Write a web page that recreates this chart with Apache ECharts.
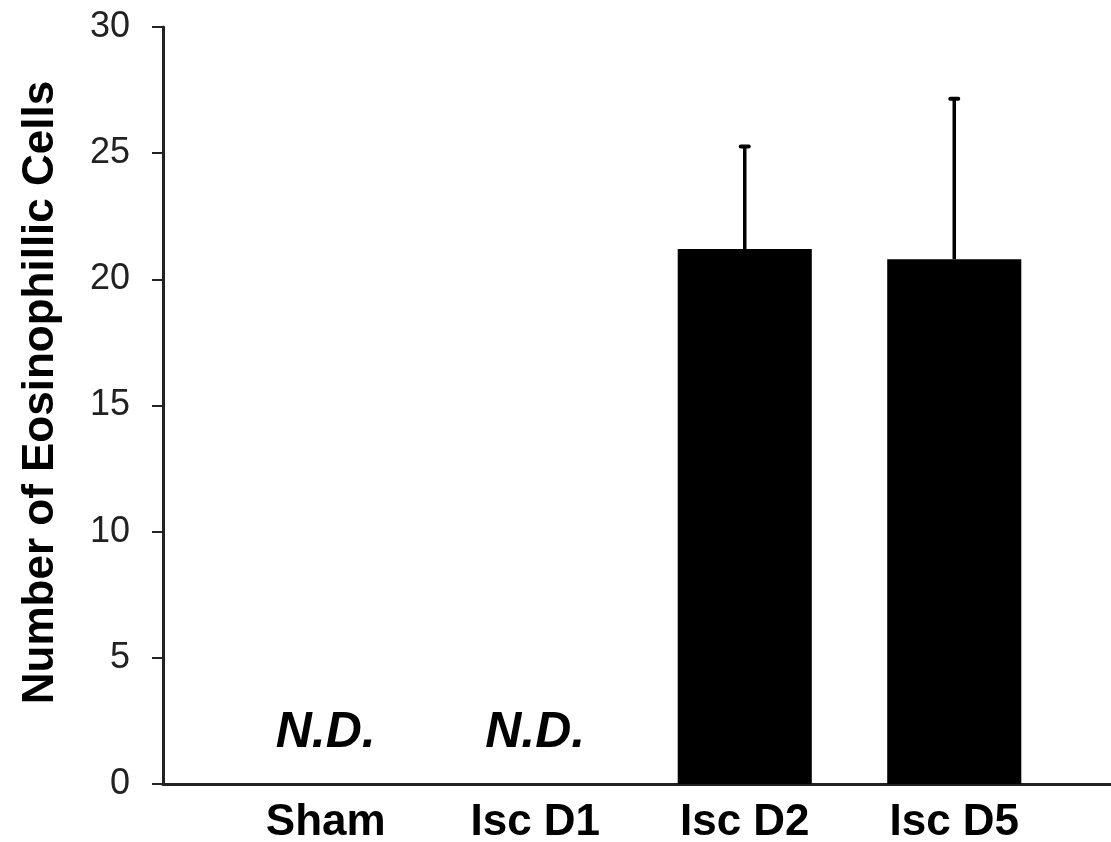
<!DOCTYPE html>
<html>
<head>
<meta charset="utf-8">
<script src="https://cdn.jsdelivr.net/npm/echarts@6/dist/echarts.min.js"></script>
<style>
html,body{margin:0;padding:0;background:#fff;}
#chart{width:1111px;height:842px;}
</style>
</head>
<body>
<div id="chart"></div>
<script>
const categories = ['Sham', 'Isc D1', 'Isc D2', 'Isc D5'];
const means = [0, 0, 21.2, 20.8];
const upperErr = [null, null, 25.3, 27.2];
const ndLabels = ['N.D.', 'N.D.', '', ''];
const yMin = 0, yMax = 30, yStep = 5;
const yTitle = 'Number of Eosinophillic Cells';

const FONT = '"Liberation Sans", Arial, sans-serif';
const errData = [];
categories.forEach((c, i) => { if (upperErr[i] != null) errData.push([i, means[i], upperErr[i]]); });

const chart = echarts.init(document.getElementById('chart'), null, {renderer: 'canvas'});
chart.setOption({
  animation: false,
  backgroundColor: '#fff',
  grid: [
    {left: 163, right: 0, top: 27, bottom: 58, containLabel: false, outerBoundsMode: 'none'},
    {left: 221, right: 52, top: 27, bottom: 58, containLabel: false, outerBoundsMode: 'none'}
  ],
  xAxis: [
    {gridIndex: 0, type: 'value', min: 0, max: 1, z: 1,
     axisLine: {show: true, lineStyle: {color: '#222', width: 3}},
     axisTick: {show: false}, axisLabel: {show: false}, splitLine: {show: false}},
    {gridIndex: 1, type: 'category', data: categories,
     axisLine: {show: false, onZero: false}, axisTick: {show: false}, splitLine: {show: false},
     axisLabel: {fontFamily: FONT, fontWeight: 'bold', fontSize: 44, color: '#000', margin: 17}}
  ],
  yAxis: [
    {gridIndex: 0, type: 'value', min: yMin, max: yMax, interval: yStep,
     axisLine: {show: true, lineStyle: {color: '#222', width: 3}},
     axisTick: {show: true, length: 11, lineStyle: {color: '#222', width: 2}},
     axisLabel: {fontFamily: FONT, fontSize: 36, color: '#222', margin: 33},
     splitLine: {show: false},
     name: yTitle, nameLocation: 'middle', nameGap: 100,
     nameTextStyle: {fontFamily: FONT, fontWeight: 'bold', fontSize: 44, color: '#000', padding: [0, 0, 0, 26]}},
    {gridIndex: 1, type: 'value', min: yMin, max: yMax, interval: yStep, show: false}
  ],
  series: [
    {type: 'bar', xAxisIndex: 1, yAxisIndex: 1, data: means, barWidth: '64%', z: 5,
     itemStyle: {color: '#000', borderWidth: 0},
     label: {show: true, position: 'top', distance: 26,
       formatter: p => ndLabels[p.dataIndex],
       fontFamily: FONT, fontStyle: 'italic', fontWeight: 'bold', fontSize: 50, color: '#000'}},
    {type: 'custom', xAxisIndex: 1, yAxisIndex: 1, data: errData, z: 6,
     renderItem: (params, api) => {
       const base = api.coord([api.value(0), api.value(1)]);
       const top = api.coord([api.value(0), api.value(2)]);
       return {type: 'group', children: [
         {type: 'line', shape: {x1: base[0], y1: base[1], x2: top[0], y2: top[1]},
          style: {stroke: '#000', lineWidth: 3.5}},
         {type: 'line', shape: {x1: top[0] - 4, y1: top[1] + 1, x2: top[0] + 4, y2: top[1] + 1},
          style: {stroke: '#000', lineWidth: 4, lineCap: 'round'}}
       ]};
     }}
  ]
});
</script>
</body>
</html>
